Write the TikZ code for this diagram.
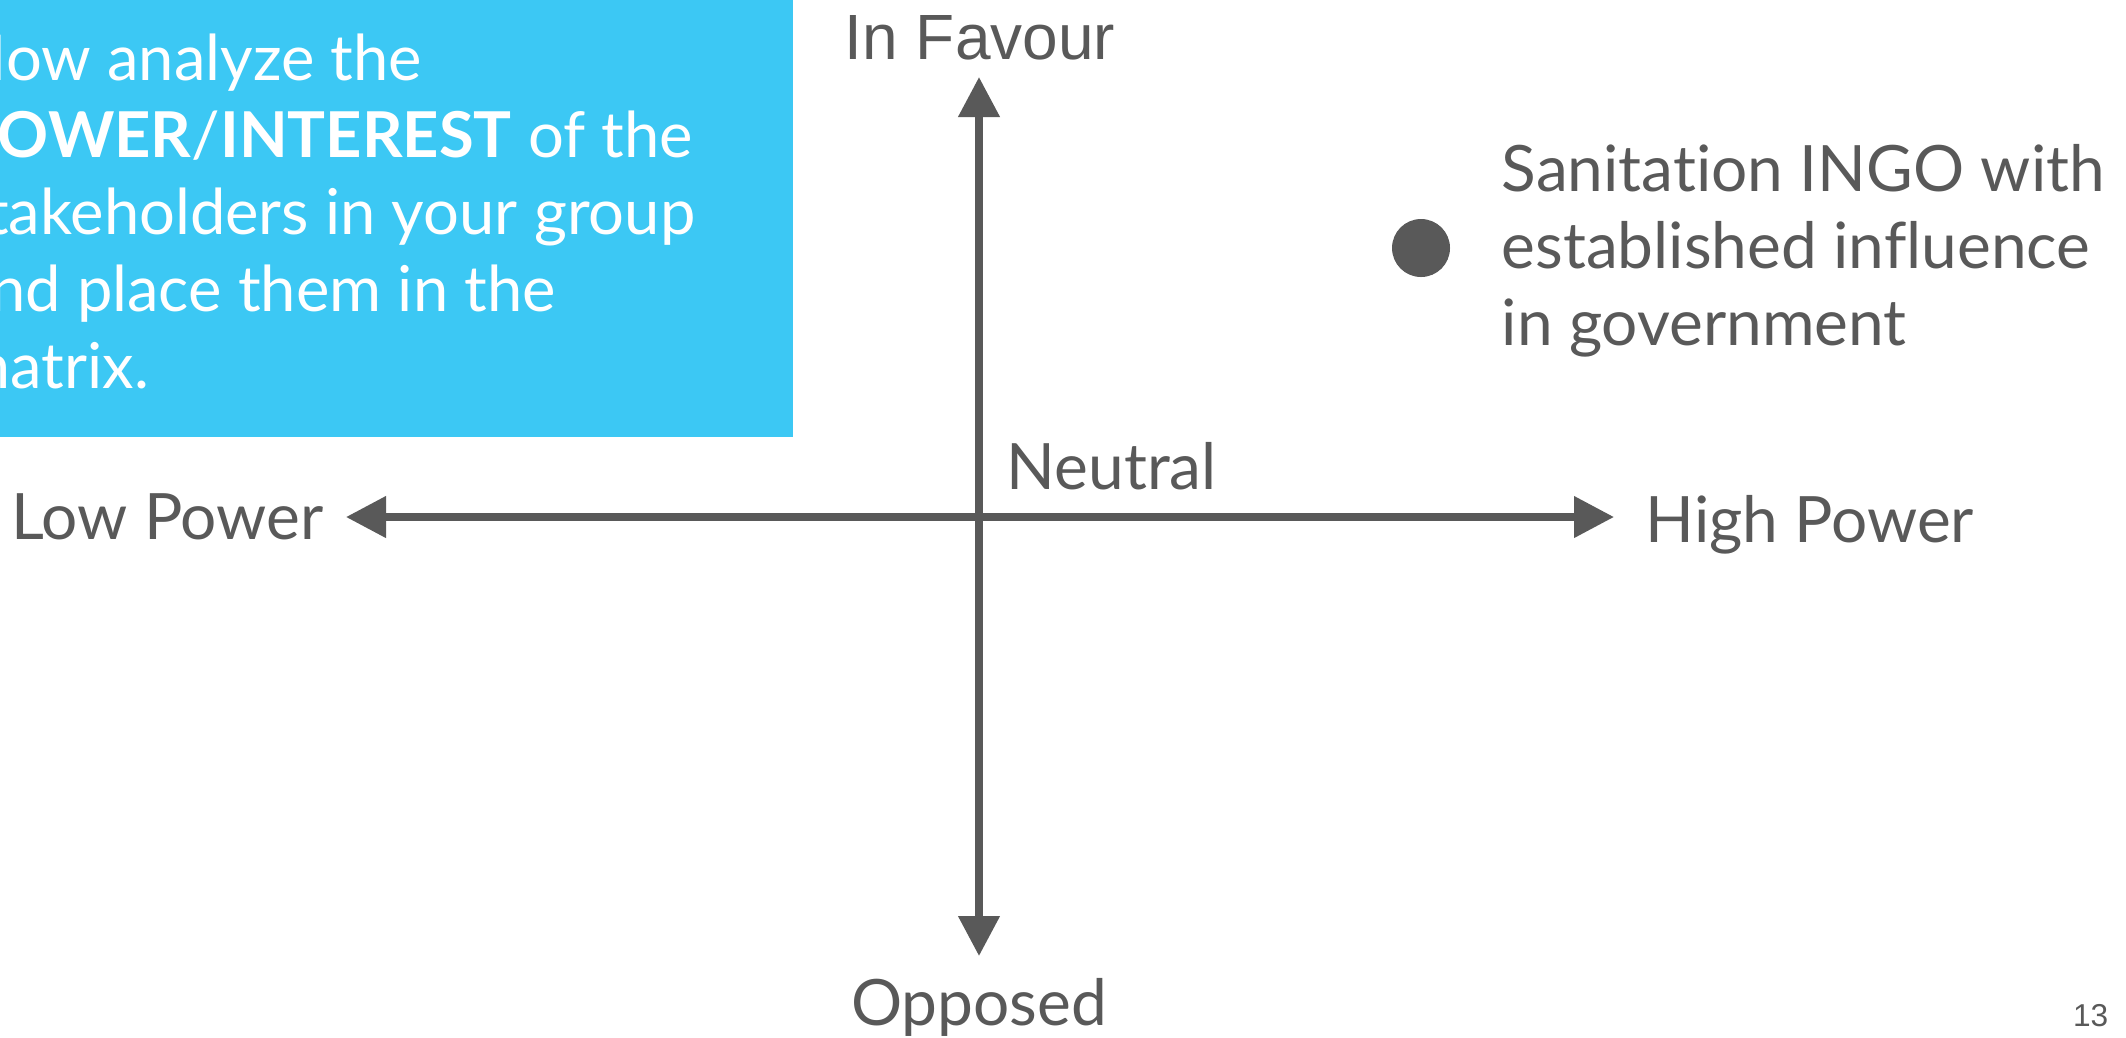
\documentclass[tikz,border=0pt]{standalone}
\usepackage{fontspec}
\setmainfont{Lato}[Ligatures=NoCommon]
\newfontfamily\arialfont{Liberation Sans}
\usetikzlibrary{arrows.meta,positioning}
\definecolor{slidegray}{HTML}{595959}
\definecolor{slideblue}{HTML}{3CC8F4}

\begin{document}
\begin{tikzpicture}[x=0.1mm,y=-0.1mm,%one unit is one pixel of the slide
        axis/.style={draw=slidegray,line width=0.75mm,
                {Triangle[length=4mm,width=4mm]}-{Triangle[length=4mm,width=4mm]}},
        lbl/.style={text=slidegray,inner sep=0pt,font=\fontsize{18.2}{21.9}\selectfont},
        boxtext/.style={text=white,inner sep=0pt,align=left,font=\fontsize{18}{21.9}\selectfont}
                ]
\useasboundingbox (0,0) rectangle (2126,1037);
\fill[slideblue] (0,0) rectangle (793,437);%task box
\node[boxtext,anchor=base west] (task) at (-42,388) {Now analyze the\\
\textbf{POWER}/\textbf{INTEREST} of the\\
stakeholders in your group\\
and place them in the\\
matrix.};%base is the last line
% axes
\coordinate (favour) at (979,77);
\coordinate (opposed) at (979,956);
\coordinate (low) at (346,517);
\coordinate (high) at (1614,517);
\draw[axis] (low) -- (high);
\draw[axis] (favour) -- (opposed);
\node[lbl,anchor=base,font=\arialfont\fontsize{18.2}{21.9}\selectfont] (favourlbl) at (980,59) {In Favour};
\node[lbl,anchor=base] (opposedlbl) at (979,1025) {Opposed};
\node[lbl,anchor=base east] (lowlbl) at (324,539) {Low Power};
\node[lbl,anchor=base west] (highlbl) at (1645,542) {High Power};
\node[lbl,anchor=base west] (neutral) at (1006,489) {Neutral};
% stakeholder
\node[circle,fill=slidegray,minimum size=5.8mm,inner sep=0pt] (ingo) at (1421,248) {};
\node[lbl,anchor=base west,align=left] (ingolbl) at (1501,345) {Sanitation INGO with\\
established influence\\
in government};
\node[lbl,anchor=base east,font=\arialfont\fontsize{9}{11}\selectfont] (page) at (2109,1026) {13};
\end{tikzpicture}
\end{document}
